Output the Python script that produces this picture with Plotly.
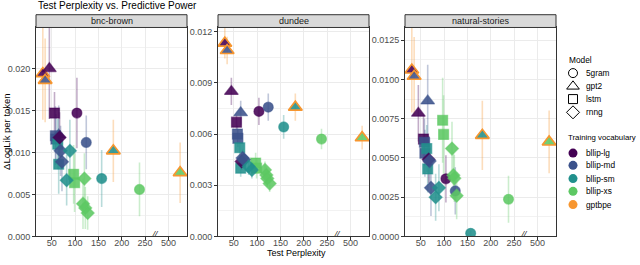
import plotly.graph_objects as go

W, H = 640, 265

# ---------------- data ----------------
panels = ["bnc-brown", "dundee", "natural-stories"]
model = ["gpt2"] * 4 + ["5gram"] * 4 + ["gpt2"] * 2 + ["lstm"] * 7 + ["rnng"] * 9
corpus = ["bllip-lg", "bllip-md", "bllip-lg", "bllip-md",
          "bllip-lg", "bllip-md", "bllip-sm", "bllip-xs",
          "bllip-sm", "bllip-xs",
          "bllip-lg", "bllip-md", "bllip-md", "bllip-sm", "bllip-sm", "bllip-xs", "bllip-xs",
          "bllip-lg", "bllip-md", "bllip-md", "bllip-sm", "bllip-sm",
          "bllip-xs", "bllip-xs", "bllip-xs", "bllip-xs"]
vocab = ["gptbpe", "gptbpe", "bllip-lg", "bllip-md",
         "bllip-lg", "bllip-md", "bllip-sm", "bllip-xs",
         "gptbpe", "gptbpe",
         "bllip-lg", "bllip-md", "bllip-md", "bllip-sm", "bllip-sm", "bllip-xs", "bllip-xs",
         "bllip-lg", "bllip-md", "bllip-md", "bllip-sm", "bllip-sm",
         "bllip-xs", "bllip-xs", "bllip-xs", "bllip-xs"]
perplexity = [31, 36, 45, 65, 104, 124, 157, 238, 182, 600,
              56, 58, 59, 63, 65, 97, 99,
              67, 69, 72, 82, 89, 117, 120, 122, 127]

bnc_brown = [0.0194, 0.0186, 0.0200, 0.0121, 0.0147, 0.0112, 0.0069, 0.0056, 0.0102, 0.0076,
             0.0147, 0.0120, 0.0116, 0.0110, 0.0086, 0.0074, 0.0064,
             0.0118, 0.0102, 0.0089, 0.0067, 0.0102, 0.0039, 0.0069, 0.0034, 0.0028]
bnc_brown_err = [0.0055, 0.0050, 0.0060, 0.0035, 0.0042, 0.0032, 0.0034, 0.0032, 0.0037, 0.0036,
                 0.0025, 0.0035, 0.0030, 0.0030, 0.0035, 0.0035, 0.0035,
                 0.0030, 0.0030, 0.0035, 0.0030, 0.0037, 0.0030, 0.0030, 0.0025, 0.0020]
dundee = [0.01133, 0.0109, 0.0085, 0.00725, 0.00733, 0.00758, 0.00642, 0.00571, 0.00758, 0.00579,
          0.0067, 0.0060, 0.00575, 0.0052, 0.0040, 0.0043, 0.0040,
          0.0044, 0.0046, 0.0045, 0.0041, 0.0039, 0.0039, 0.0036, 0.0034, 0.0031]
dundee_err = [0.0009, 0.0008, 0.0008, 0.0007, 0.0008, 0.0008, 0.0007, 0.0006, 0.0008, 0.0007,
              0.0004, 0.0005, 0.0005, 0.0005, 0.0005, 0.0006, 0.0006,
              0.0005, 0.0005, 0.0005, 0.0005, 0.0005, 0.0005, 0.0005, 0.0005, 0.0005]
natural_stories = [0.0106, 0.0102, 0.00785, 0.00863, 0.00367, 0.0029, 0.0002, 0.00237, 0.00644, 0.00602,
                   0.0062, 0.0060, 0.0053, 0.0056, 0.0043, 0.0074, 0.0065,
                   0.0049, 0.0048, 0.0031, 0.0025, 0.0031, 0.0056, 0.0039, 0.0037, 0.0026]
natural_stories_err = [0.0027, 0.0025, 0.0018, 0.0023, 0.0015, 0.0015, 0.0002, 0.0015, 0.0022, 0.0020,
                       0.0015, 0.0015, 0.0015, 0.0015, 0.0015, 0.0027, 0.0025,
                       0.0015, 0.0015, 0.0018, 0.0015, 0.0015, 0.0017, 0.0015, 0.0015, 0.0015]

values = [bnc_brown, dundee, natural_stories]
errors = [bnc_brown_err, dundee_err, natural_stories_err]

x_tick_vals = [50, 100, 150, 200, 250, 500]
x_tick_text = ["50", "100", "150", "200", "250", "500"]

model_names = ["5gram", "gpt2", "lstm", "rnng"]
vocab_names = ["bllip-lg", "bllip-md", "bllip-sm", "bllip-xs", "gptbpe"]

# ---------------- styles ----------------
colors = {"bllip-lg": "#440154", "bllip-md": "#3B528B", "bllip-sm": "#21908C",
          "bllip-xs": "#5DC863", "gptbpe": "#F7962F"}
symbols = {"5gram": "circle", "gpt2": "triangle-up", "lstm": "square", "rnng": "diamond"}
sizes = {"5gram": 10, "gpt2": 12, "lstm": 10, "rnng": 10}
open_symbols = {"5gram": "circle-open", "gpt2": "triangle-up-open",
                "lstm": "square-open", "rnng": "diamond-open"}


def rgba(hexc, a):
    h = hexc.lstrip("#")
    return "rgba(%d,%d,%d,%.2f)" % (int(h[0:2], 16), int(h[2:4], 16), int(h[4:6], 16), a)


def disp(p):
    # broken x axis: values beyond the break are compressed, 500 lands at 300
    return p if p <= 275 else 300 + (p - 500) / 4.0


FONT = "Liberation Sans, Arial, sans-serif"
GRID = "#EBEBEB"
FRAME = "#333333"

x_doms = [(36, 187), (218, 369), (405, 556)]
y_top, y_bot = 28, 241
y_ranges = [(0, 0.0249), (0, 0.01225), (0, 0.01331)]
y_dticks = [0.005, 0.003, 0.0025]
y_formats = [".3f", ".3f", ".4f"]
x_range = [16.4, 339.7]

fig = go.Figure()

for pi in range(3):
    xa = "x" if pi == 0 else "x%d" % (pi + 1)
    ya = "y" if pi == 0 else "y%d" % (pi + 1)
    # error bars (all, below points)
    for i in range(len(model)):
        c = colors[vocab[i]]
        v, e = values[pi][i], errors[pi][i]
        xp = disp(perplexity[i])
        fig.add_trace(go.Scatter(x=[xp, xp], y=[v - e, v + e], mode="lines",
                                 line=dict(color=rgba(c, 0.32), width=1.6),
                                 xaxis=xa, yaxis=ya, showlegend=False, hoverinfo="skip"))
    for i in range(len(model)):
        fill = colors[corpus[i]]
        outline = colors[vocab[i]]
        if vocab[i] == "gptbpe":
            line = dict(color=outline, width=1.6)
        else:
            line = dict(color=rgba(fill, 0.55), width=1.2)
        fig.add_trace(go.Scatter(x=[disp(perplexity[i])], y=[values[pi][i]], mode="markers",
                                 marker=dict(symbol=symbols[model[i]], size=sizes[model[i]],
                                             color=rgba(fill, 0.88), line=line),
                                 xaxis=xa, yaxis=ya, showlegend=False,
                                 name="%s %s %s" % (model[i], corpus[i], vocab[i])))

layout = dict(width=W, height=H, margin=dict(l=0, r=0, t=0, b=0),
              paper_bgcolor="white", plot_bgcolor="rgba(0,0,0,0)", showlegend=False,
              font=dict(family=FONT, size=9, color="#4D4D4D"))

for pi in range(3):
    kx = "xaxis" if pi == 0 else "xaxis%d" % (pi + 1)
    ky = "yaxis" if pi == 0 else "yaxis%d" % (pi + 1)
    ax_x = "x" if pi == 0 else "x%d" % (pi + 1)
    ax_y = "y" if pi == 0 else "y%d" % (pi + 1)
    layout[kx] = dict(domain=[x_doms[pi][0] / W, x_doms[pi][1] / W], anchor=ax_y,
                      range=x_range, tickmode="array",
                      tickvals=[disp(t) for t in x_tick_vals], ticktext=x_tick_text,
                      showgrid=True, gridcolor=GRID, gridwidth=1.1,
                      showline=True, linecolor=FRAME, linewidth=1, mirror=True,
                      ticks="outside", ticklen=3, tickcolor=FRAME, tickwidth=1,
                      ticklabelstandoff=-5,
                      tickfont=dict(size=9, color="#4D4D4D"), zeroline=False)
    layout[ky] = dict(domain=[1 - y_bot / H, 1 - y_top / H], anchor=ax_x,
                      range=list(y_ranges[pi]), tickmode="linear", tick0=0, dtick=y_dticks[pi],
                      tickformat=y_formats[pi],
                      showgrid=True, gridcolor=GRID, gridwidth=1.1,
                      minor=dict(dtick=y_dticks[pi] / 2, showgrid=True, gridcolor="#F2F2F2",
                                 gridwidth=0.6, ticklen=0),
                      showline=True, linecolor=FRAME, linewidth=1, mirror=True,
                      ticks="outside", ticklen=3, tickcolor=FRAME, tickwidth=1,
                      tickfont=dict(size=9, color="#4D4D4D"), zeroline=False)

# overlay pixel axis for the manual legend (transparent background)
layout["xaxis4"] = dict(domain=[0.88, 1], range=[0.88 * W, W], visible=False, fixedrange=True,
                        anchor="y4")
layout["yaxis4"] = dict(domain=[0, 1], range=[H, 0], visible=False, fixedrange=True, anchor="x4")

shapes = []
annotations = []
for pi in range(3):
    x0, x1 = x_doms[pi]
    shapes.append(dict(type="rect", xref="paper", yref="paper",
                       x0=x0 / W, x1=x1 / W, y0=1 - 28 / H, y1=1 - 15 / H,
                       fillcolor="#D9D9D9", line=dict(color=FRAME, width=1), layer="above"))
    annotations.append(dict(text=panels[pi], xref="paper", yref="paper",
                            x=(x0 + x1) / 2 / W, y=1 - 21.5 / H, showarrow=False,
                            xanchor="center", yanchor="middle",
                            font=dict(size=9, color="#1A1A1A")))
    # axis break marker
    annotations.append(dict(text="<i>//</i>", xref="x" if pi == 0 else "x%d" % (pi + 1),
                            yref="paper", x=271, y=1 - 238 / H, showarrow=False,
                            xanchor="center", yanchor="middle",
                            font=dict(size=8, color="black")))

annotations.append(dict(text="Test Perplexity vs. Predictive Power", xref="paper", yref="paper",
                        x=36 / W, y=1 - 5.5 / H, showarrow=False, xanchor="left", yanchor="middle",
                        font=dict(size=10, color="black")))
annotations.append(dict(text="Test Perplexity", xref="paper", yref="paper",
                        x=296 / W, y=1 - 257.5 / H, showarrow=False, xanchor="center",
                        yanchor="middle", font=dict(size=9, color="black")))
annotations.append(dict(text="ΔLogLik per token", xref="paper", yref="paper",
                        x=7 / W, y=1 - 134.5 / H, showarrow=False, textangle=-90,
                        xanchor="center", yanchor="middle", font=dict(size=9.5, color="black")))

# legend
leg_sym_x = 573
leg_txt_x = 584
LEG_FS = 8.3
annotations.append(dict(text="Model", xref="paper", yref="paper", x=567 / W, y=1 - 61 / H,
                        showarrow=False, xanchor="left", yanchor="middle",
                        font=dict(size=LEG_FS, color="black")))
model_y = [74.5, 88, 101, 114.5]
for name, yy in zip(model_names, model_y):
    fig.add_trace(go.Scatter(x=[leg_sym_x], y=[yy], mode="markers", xaxis="x4", yaxis="y4",
                             marker=dict(symbol=open_symbols[name],
                                         size={"5gram": 9, "gpt2": 11, "lstm": 9, "rnng": 10}[name],
                                         color="black", line=dict(width=1)),
                             showlegend=False, hoverinfo="skip"))
    annotations.append(dict(text=name, xref="paper", yref="paper", x=leg_txt_x / W, y=1 - yy / H,
                            showarrow=False, xanchor="left", yanchor="middle",
                            font=dict(size=LEG_FS, color="black")))

annotations.append(dict(text="Training vocabulary", xref="paper", yref="paper", x=566 / W,
                        y=1 - 140.5 / H, showarrow=False, xanchor="left", yanchor="middle",
                        font=dict(size=7.8, color="black")))
vocab_y = [156, 168.5, 182, 195, 208.5]
for name, yy in zip(vocab_names, vocab_y):
    fig.add_trace(go.Scatter(x=[leg_sym_x], y=[yy], mode="markers", xaxis="x4", yaxis="y4",
                             marker=dict(symbol="circle", size=9, color=colors[name]),
                             showlegend=False, hoverinfo="skip"))
    annotations.append(dict(text=name, xref="paper", yref="paper", x=leg_txt_x / W, y=1 - yy / H,
                            showarrow=False, xanchor="left", yanchor="middle",
                            font=dict(size=LEG_FS, color="black")))

layout["shapes"] = shapes
layout["annotations"] = annotations
fig.update_layout(**layout)
fig.write_html("out.html", config={"displayModeBar": False},
               post_script="document.body.style.margin='0';document.body.style.overflow='hidden';")
